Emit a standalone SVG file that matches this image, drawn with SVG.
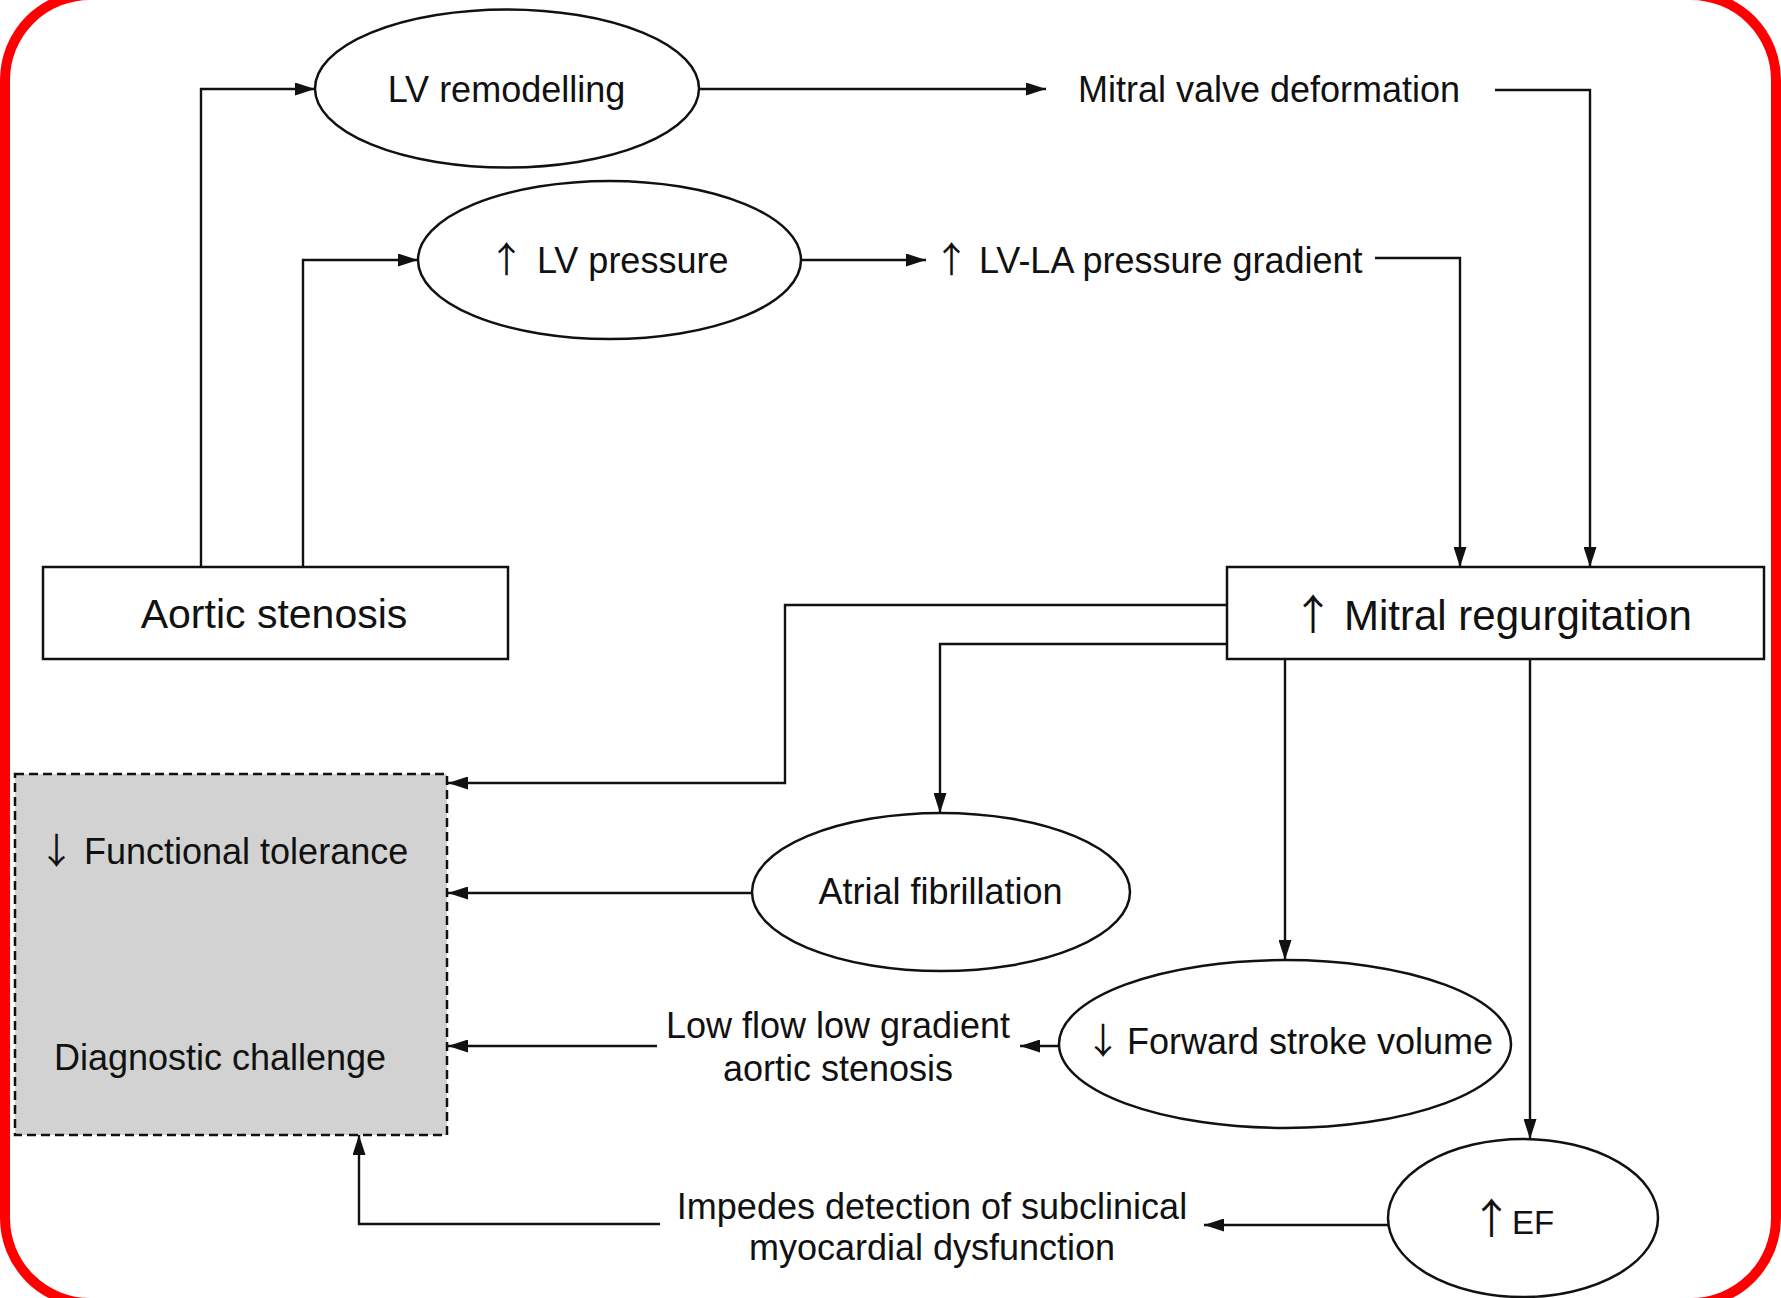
<svg xmlns="http://www.w3.org/2000/svg" width="1781" height="1298" viewBox="0 0 1781 1298">
<style>
  .shape { fill: #fff; stroke: #111; stroke-width: 2.5; }
  .dashed { fill: #d2d2d2; stroke: #111; stroke-width: 2.5; stroke-dasharray: 9 5; }
  .arr { fill: none; stroke: #111; stroke-width: 2.4; marker-end: url(#ah); }
  text { font-family: "Liberation Sans", Arial, sans-serif; font-size: 36px; fill: #111; }
  .big { font-size: 41px; }
  .mr { font-size: 42px; }
  .ef { font-size: 33px; }
  .mid { text-anchor: middle; }
  .sym { font-family: "Noto Sans CJK JP", "DejaVu Sans", sans-serif; text-anchor: middle; }
</style>
<defs>
  <marker id="ah" markerUnits="userSpaceOnUse" markerWidth="20" markerHeight="13" refX="20" refY="6.5" orient="auto">
    <path d="M0,0 L20,6.5 L0,13 z" fill="#111"/>
  </marker>
</defs>
<rect x="0" y="0" width="1781" height="1298" fill="#fff"/>
<rect x="5" y="-5" width="1771" height="1308" rx="85" ry="85" fill="none" stroke="#ff0000" stroke-width="10"/>

<g id="connectors">
  <path class="arr" d="M201,567 V89 H315"/>
  <path class="arr" d="M303,567 V260 H418"/>
  <path class="arr" d="M699,89 H1046"/>
  <path class="arr" d="M801,260 H926"/>
  <path class="arr" d="M1495,90 H1590 V567"/>
  <path class="arr" d="M1375,258 H1460 V567"/>
  <path class="arr" d="M1227,605 H785 V783 H448"/>
  <path class="arr" d="M1227,644 H940 V813"/>
  <path class="arr" d="M752,893 H448"/>
  <path class="arr" d="M1285,659 V960"/>
  <path class="arr" d="M1530,659 V1139"/>
  <path class="arr" d="M1059,1046 H1020"/>
  <path class="arr" d="M657,1046 H448"/>
  <path class="arr" d="M1388,1225 H1204"/>
  <path class="arr" d="M660,1224 H359 V1135"/>
</g>

<g id="lv-remodelling">
  <ellipse class="shape" cx="507" cy="88.5" rx="192" ry="79"/>
  <text class="mid" x="506.5" y="101.7">LV remodelling</text>
</g>
<g id="lv-pressure">
  <ellipse class="shape" cx="609.5" cy="260" rx="191.5" ry="79"/>
  <text y="273"><tspan class="sym" x="506.5">↑</tspan><tspan x="537">LV pressure</tspan></text>
</g>
<g id="mitral-valve-deformation">
  <text class="mid" x="1269" y="101.7">Mitral valve deformation</text>
</g>
<g id="lv-la-gradient">
  <text y="273"><tspan class="sym" x="951.5">↑</tspan><tspan x="979">LV-LA pressure gradient</tspan></text>
</g>
<g id="aortic-stenosis">
  <rect class="shape" x="43" y="567" width="465" height="92"/>
  <text class="big mid" x="274" y="628">Aortic stenosis</text>
</g>
<g id="mitral-regurgitation">
  <rect class="shape" x="1227" y="567" width="537" height="92"/>
  <text class="mr" y="629.5"><tspan class="sym" x="1313">↑</tspan><tspan x="1344">Mitral regurgitation</tspan></text>
</g>
<g id="outcomes">
  <rect class="dashed" x="15" y="774" width="432" height="361"/>
  <text y="864"><tspan class="sym" x="56.5">↓</tspan><tspan x="84">Functional tolerance</tspan></text>
  <text class="mid" x="220" y="1070">Diagnostic challenge</text>
</g>
<g id="atrial-fibrillation">
  <ellipse class="shape" cx="941" cy="892" rx="189" ry="79"/>
  <text class="mid" x="940.5" y="904">Atrial fibrillation</text>
</g>
<g id="forward-stroke-volume">
  <ellipse class="shape" cx="1285" cy="1044" rx="226" ry="84"/>
  <text y="1054"><tspan class="sym" x="1103">↓</tspan><tspan x="1127">Forward stroke volume</tspan></text>
</g>
<g id="low-flow">
  <text class="mid" x="838" y="1038">Low flow low gradient</text>
  <text class="mid" x="838" y="1081">aortic stenosis</text>
</g>
<g id="ef">
  <ellipse class="shape" cx="1523" cy="1218" rx="135" ry="79"/>
  <text class="ef" y="1234"><tspan class="sym" x="1491.5" style="font-size:42px">↑</tspan><tspan x="1512">EF</tspan></text>
</g>
<g id="impedes">
  <text class="mid" x="932" y="1219">Impedes detection of subclinical</text>
  <text class="mid" x="932" y="1260">myocardial dysfunction</text>
</g>
</svg>
